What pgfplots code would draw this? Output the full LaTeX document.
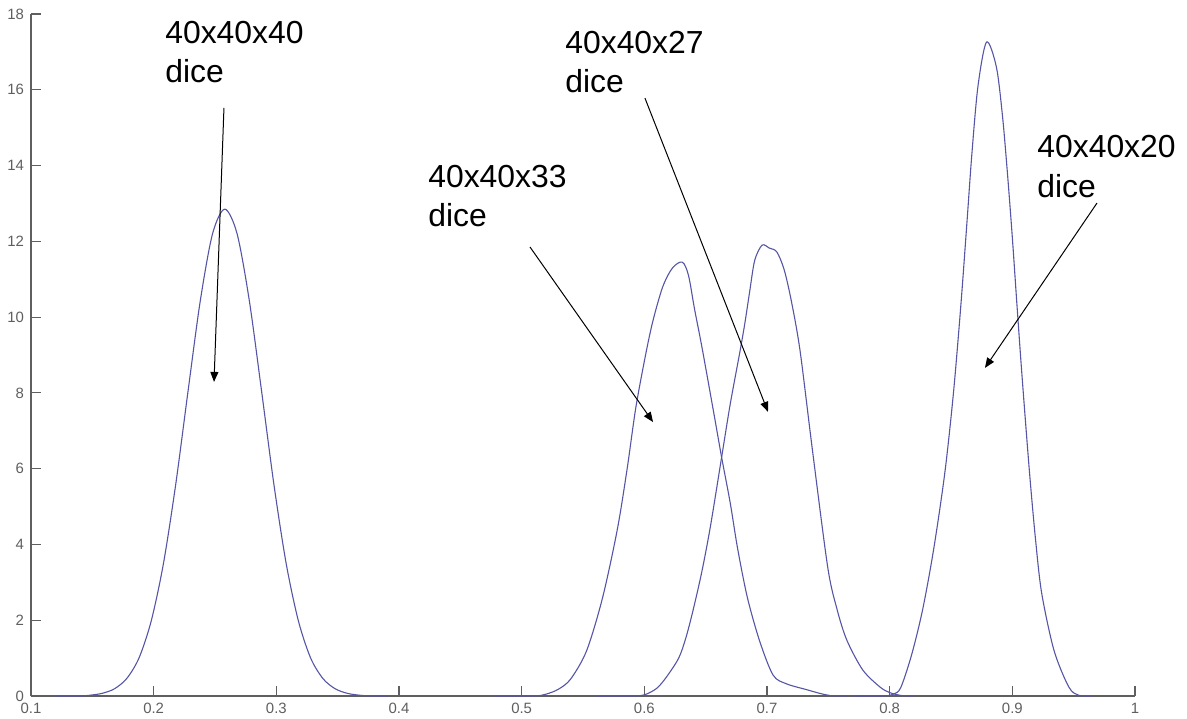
\documentclass[border=0pt]{standalone}
\usepackage{fontspec}
\setmainfont{Liberation Sans}
\usepackage{pgfplots}
\pgfplotsset{compat=1.18}
\usetikzlibrary{arrows.meta}
\definecolor{curve}{RGB}{85,85,165}
\definecolor{axisgray}{RGB}{95,95,95}
\begin{document}
\begin{tikzpicture}
\path[use as bounding box] (-15.5bp,-11.5bp) rectangle (578bp,348bp);
\begin{axis}[
  at={(0,0)}, anchor=south west, scale only axis,
  width=552bp, height=341bp,
  xmin=0.1, xmax=1, ymin=0, ymax=18,
  axis lines=left,
  axis line style={-, axisgray, line width=0.6bp},
  tick align=inside, major tick length=5bp,
  tick style={axisgray, line width=0.6bp},
  xtick={0.1,0.2,0.3,0.4,0.5,0.6,0.7,0.8,0.9,1},
  xticklabels={0.1,0.2,0.3,0.4,0.5,0.6,0.7,0.8,0.9,1},
  ytick={0,2,4,6,8,10,12,14,16,18},
  yticklabels={0,2,4,6,8,10,12,14,16,18},
  tick label style={font=\fontsize{7.5}{9}\selectfont, text=axisgray},
  /pgf/number format/assume math mode=true,
  clip=false,
]
% 40x40x40
\addplot[curve, line width=0.55bp, smooth] coordinates {
(0.12,0) (0.14,0) (0.148,0.02) (0.158,0.07) (0.168,0.19) (0.178,0.46) (0.188,1.0)
(0.198,1.98) (0.208,3.5) (0.218,5.59) (0.228,8.04) (0.238,10.43) (0.248,12.2)
(0.258,12.85) (0.268,12.2) (0.278,10.43) (0.288,8.04) (0.298,5.59) (0.308,3.5)
(0.318,1.98) (0.328,1.0) (0.338,0.46) (0.348,0.19) (0.358,0.07) (0.368,0.02)
(0.378,0) (0.39,0)
};
% 40x40x33
\addplot[curve, line width=0.55bp, smooth] coordinates {
(0.478,0) (0.51,0) (0.52,0.05) (0.53,0.18) (0.54,0.45) (0.553,1.2) (0.566,2.6)
(0.578,4.4) (0.586,6.0) (0.593,7.6) (0.601,9.0) (0.607,9.9) (0.615,10.8) (0.623,11.3)
(0.631,11.45) (0.636,11.1) (0.641,10.2) (0.647,9.2) (0.657,7.4) (0.663,6.3)
(0.670,5.1) (0.676,3.9) (0.684,2.6) (0.694,1.45) (0.705,0.55) (0.716,0.32)
(0.732,0.17) (0.743,0.07) (0.752,0.01) (0.765,0)
};
% 40x40x27
\addplot[curve, line width=0.55bp, smooth] coordinates {
(0.56,0) (0.59,0) (0.60,0.03) (0.61,0.2) (0.618,0.5) (0.628,1.0) (0.634,1.55)
(0.640,2.3) (0.647,3.3) (0.654,4.5) (0.663,6.3) (0.670,7.7) (0.678,9.1) (0.682,9.85)
(0.686,10.7) (0.690,11.5) (0.696,11.9) (0.702,11.82) (0.708,11.72) (0.714,11.25)
(0.720,10.4) (0.727,9.1) (0.737,6.5) (0.7495,3.4) (0.757,2.3) (0.765,1.48)
(0.778,0.69) (0.792,0.24) (0.80,0.09) (0.81,0.01) (0.82,0)
};
% 40x40x20
\addplot[curve, line width=0.55bp, smooth] coordinates {
(0.77,0) (0.795,0) (0.803,0.05) (0.809,0.22) (0.818,1.1) (0.827,2.3) (0.836,3.9)
(0.845,5.9) (0.852,8.0) (0.858,10.3) (0.863,12.5) (0.867,14.3) (0.872,16.1)
(0.879,17.26) (0.887,16.6) (0.892,15.3) (0.896,13.8) (0.900,12.1) (0.9036,10.4)
(0.908,8.4) (0.914,5.9) (0.919,4.1) (0.924,2.7) (0.934,1.2) (0.946,0.24)
(0.954,0.02) (0.965,0)
};
% annotations
\tikzset{lbl/.style={anchor=base west, inner sep=0pt, font=\fontsize{16}{19}\selectfont}}
\node[lbl] at (axis cs:0.2092,17.23) {40x40x40};
\node[lbl] at (axis cs:0.2092,16.20) {dice};
\node[lbl] at (axis cs:0.5353,16.97) {40x40x27};
\node[lbl] at (axis cs:0.5353,15.94) {dice};
\node[lbl] at (axis cs:0.4236,13.41) {40x40x33};
\node[lbl] at (axis cs:0.4236,12.38) {dice};
\node[lbl] at (axis cs:0.9201,14.20) {40x40x20};
\node[lbl] at (axis cs:0.9201,13.17) {dice};
\tikzset{arr/.style={black, line width=0.5bp, -{Triangle[length=5bp,width=4bp]}}}
\draw[arr] (axis cs:0.2573,15.52) -- (axis cs:0.2492,8.29);
\draw[arr] (axis cs:0.5068,11.85) -- (axis cs:0.6071,7.23);
\draw[arr] (axis cs:0.6005,15.78) -- (axis cs:0.7008,7.50);
\draw[arr] (axis cs:0.969,13.01) -- (axis cs:0.8777,8.66);
\end{axis}
\end{tikzpicture}
\end{document}
